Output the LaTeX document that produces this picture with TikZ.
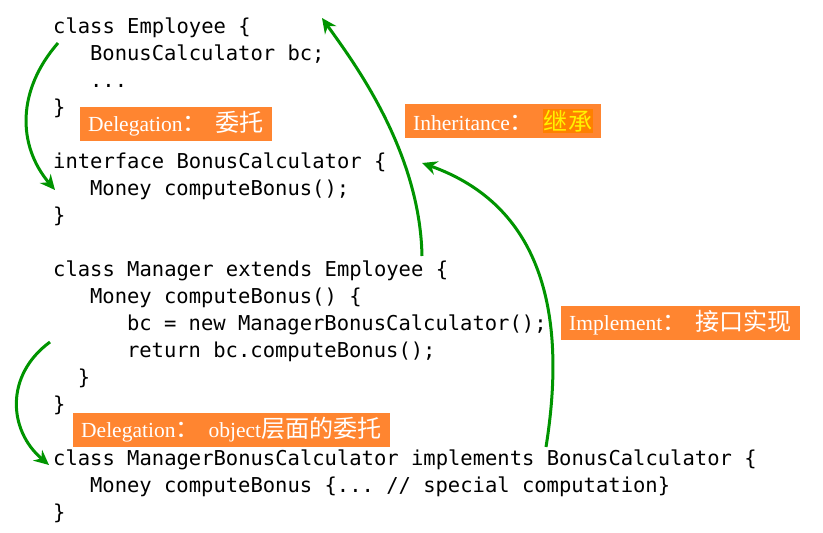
\documentclass[tikz,border=0pt]{standalone}
\usepackage{fontspec}
\setmainfont{Liberation Serif}
\setmonofont{DejaVu Sans Mono}
\newfontfamily\cjk[Scale=1.12]{Noto Sans CJK SC}
\newcommand{\fwcolon}{{\cjk ：}\hspace{9pt}}
\usetikzlibrary{arrows.meta}
\definecolor{LabelClr}{RGB}{255,133,48}
\definecolor{HiClr}{RGB}{255,128,0}
\definecolor{ArrowClr}{RGB}{0,148,0}

\begin{document}
\begin{tikzpicture}[x=1pt,y=-1pt,
  code/.style={anchor=base west,inner sep=0pt,font=\ttfamily\fontsize{20.5}{24}\selectfont},
  tag/.style={anchor=west,fill=LabelClr,text=white,inner xsep=8pt,inner ysep=0pt,
    minimum height=34pt,font=\fontsize{21.5}{24}\selectfont},
  link/.style={draw=ArrowClr,line width=3pt,-{Stealth[length=15pt,width=14pt]}}]
\useasboundingbox (0,0) rectangle (823,533);

% code lines
\node[code] (emp)     at (53,33)     {class Employee \{};
\node[code] (empbc)   at (89.9,60.1) {BonusCalculator bc;};
\node[code] (empdots) at (89.9,87.1) {...};
\node[code] (empend)  at (53,114.2)  {\}};

\node[code] (ifc)     at (53,168.3)  {interface BonusCalculator \{};
\node[code] (ifcm)    at (89.9,195.3){Money computeBonus();};
\node[code] (ifcend)  at (53,222.4)  {\}};

\node[code] (mgr)     at (53,276.5)   {class Manager extends Employee \{};
\node[code] (mgrm)    at (89.9,303.5) {Money computeBonus() \{};
\node[code] (mgrbc)   at (126.8,330.6){bc = new ManagerBonusCalculator();};
\node[code] (mgrret)  at (126.8,357.6){return bc.computeBonus();};
\node[code] (mgrmend) at (77.6,384.7) {\}};
\node[code] (mgrend)  at (53,411.7)   {\}};

\node[code] (mbc)     at (53,465.8)   {class ManagerBonusCalculator implements BonusCalculator \{};
\node[code] (mbcm)    at (89.9,492.9) {Money computeBonus \{... // special computation\}};
\node[code] (mbcend)  at (53,519.9)   {\}};

% labels
\node[tag] (deleg)   at (80,124)  {Delegation\fwcolon{\cjk 委托}};
\node[tag] (inherit) at (405,121) {Inheritance\fwcolon{\fboxsep=1pt\colorbox{HiClr}{\cjk\color{yellow}继承}}};
\node[tag] (impl)    at (561,323) {Implement\fwcolon{\cjk 接口实现}};
\node[tag] (delegob) at (73,430)  {Delegation\fwcolon object{\cjk 层面的委托}};

% arrow ends
\coordinate (d1s) at (58,43);
\coordinate (d1e) at (55,190);
\coordinate (inhs) at (422,256);
\coordinate (inhe) at (322,18);
\coordinate (imps) at (546,447);
\coordinate (impe) at (422,163);
\coordinate (d2s) at (50,342);
\coordinate (d2e) at (49,465);

\draw[link] (d1s) .. controls (17,90) and (17,145) .. (d1e);
\draw[link] (inhs) .. controls (420,150) and (352,60) .. (inhe);
\draw[link] (imps) .. controls (568,310) and (540,205) .. (impe);
\draw[link] (d2s) .. controls (5,375) and (8,430) .. (d2e);

\end{tikzpicture}
\end{document}
